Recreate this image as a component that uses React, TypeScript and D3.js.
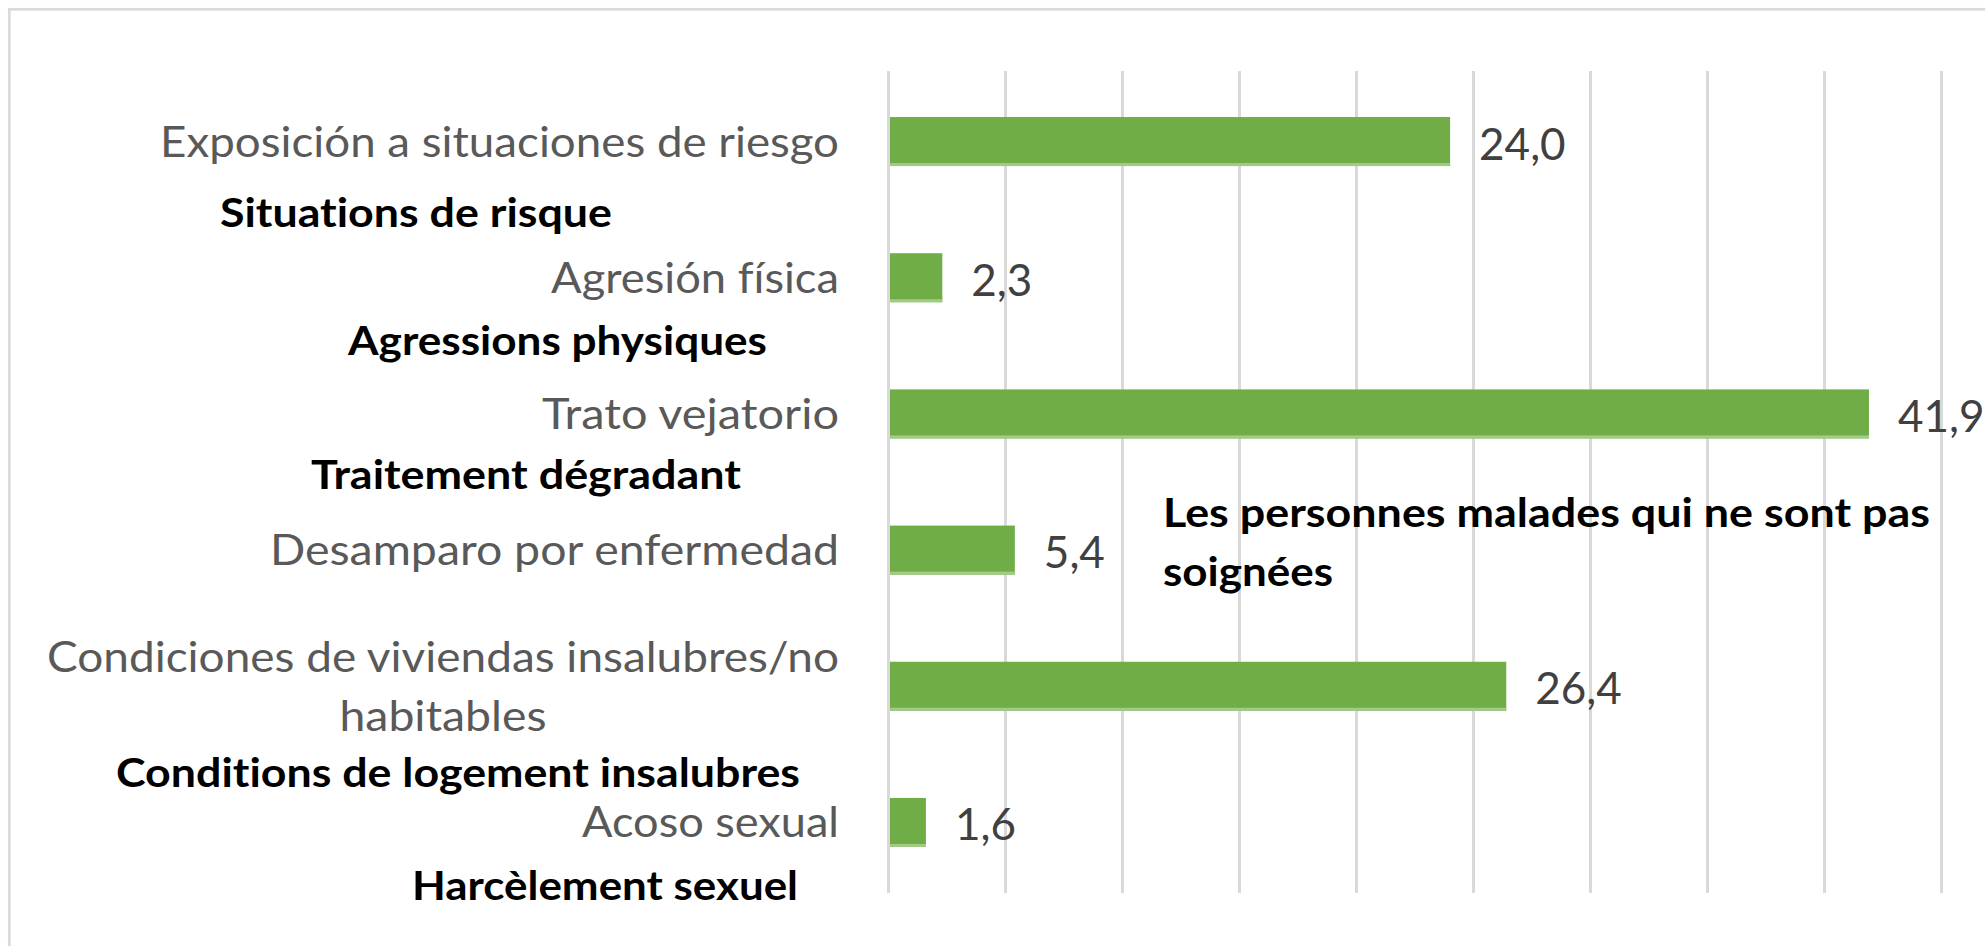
import React from "react";
import * as d3 from "d3";

// ---- data ----
const categoryLines: string[][] = [
  ["Exposición a situaciones de riesgo"],
  ["Agresión física"],
  ["Trato vejatorio"],
  ["Desamparo por enfermedad"],
  ["Condiciones de viviendas insalubres/no", "habitables"],
  ["Acoso sexual"],
];
const categories = categoryLines.map((l) => l.join(" "));
const values = [24.0, 2.3, 41.9, 5.4, 26.4, 1.6];
const xTicks = [0, 5, 10, 15, 20, 25, 30, 35, 40, 45];
const frenchNotes: string[][] = [
  ["Situations de risque"],
  ["Agressions physiques"],
  ["Traitement dégradant"],
  ["Les personnes malades qui ne sont pas", "soignées"],
  ["Conditions de logement insalubres"],
  ["Harcèlement sexuel"],
];

// ---- layout (positions / sizes) ----
const W = 1985;
const H = 946;
const labelRight = 839;
const catWidths = [[679], [288], [297], [569], [792, 207], [257]];
const noteLayout = [
  { x: 220, y: 227, w: [392] },
  { x: 348, y: 355, w: [419] },
  { x: 311, y: 489, w: [430] },
  { x: 1163, y: 527, w: [767, 170] },
  { x: 116, y: 787, w: [684] },
  { x: 412, y: 900, w: [386] },
];
const FONT = "Lato, 'Open Sans', sans-serif";
const noLig = { fontVariantLigatures: "none", fontFeatureSettings: "'liga' 0, 'clig' 0" } as React.CSSProperties;

export default function App() {
  const x = d3.scaleLinear().domain([0, 45]).range([888.5, 1941.5]);
  const y = d3
    .scaleBand<string>()
    .domain(categories)
    .range([71, 893])
    .paddingInner(0.64)
    .paddingOuter(0.338);
  const fmt = (v: number) => d3.format(".1f")(v).replace(".", ",");
  const bw = y.bandwidth();

  return (
    <svg
      width={W}
      height={H}
      style={{ position: "absolute", left: 0, top: 0, background: "#fff" }}
    >
      <rect x={0} y={0} width={W} height={H} fill="#ffffff" />
      {/* frame */}
      <rect
        x={9.3}
        y={9.3}
        width={W + 50}
        height={H + 50}
        fill="none"
        stroke="#d9d9d9"
        strokeWidth={2.7}
      />
      {/* gridlines */}
      {xTicks.map((t) => (
        <line
          key={t}
          x1={x(t)}
          x2={x(t)}
          y1={71}
          y2={893}
          stroke="#d9d9d9"
          strokeWidth={3}
        />
      ))}
      {/* bars */}
      {categories.map((c, i) => (
        <g key={c}>
          <rect
            x={x(0) + 1.5}
            y={y(c)!}
            width={x(values[i]) - x(0) - 1.5}
            height={bw}
            fill="#70ad47"
          />
          <rect
            x={x(0) + 1.5}
            y={y(c)! + bw - 3}
            width={x(values[i]) - x(0) - 1.5}
            height={3}
            fill="#a3cb87"
          />
        </g>
      ))}
      {/* value labels */}
      {categories.map((c, i) => (
        <text
          key={c}
          x={x(values[i]) + 29}
          y={y(c)! + bw / 2 + 18}
          fontFamily={FONT}
          fontSize={44}
          fill="#404040"
        >
          {fmt(values[i])}
        </text>
      ))}
      {/* category labels */}
      {categoryLines.map((lines, i) => {
        const c = categories[i];
        const cy = y(c)! + bw / 2 + 15;
        const maxW = Math.max(...catWidths[i]);
        const cx = labelRight - maxW / 2;
        const lh = 59;
        const y0 = cy - ((lines.length - 1) * lh) / 2;
        return lines.map((ln, k) => (
          <text
            key={`${c}-${k}`}
            x={cx}
            y={y0 + k * lh}
            textAnchor="middle"
            fontFamily={FONT}
            fontSize={42}
            fill="#595959"
            textLength={catWidths[i][k]}
            lengthAdjust="spacingAndGlyphs"
            style={noLig}
          >
            {ln}
          </text>
        ));
      })}
      {/* French annotations */}
      {frenchNotes.map((lines, i) =>
        lines.map((ln, k) => (
          <text
            key={`${i}-${k}`}
            x={noteLayout[i].x}
            y={noteLayout[i].y + k * 59}
            fontFamily={FONT}
            fontWeight={700}
            fontSize={40}
            fill="#000000"
            textLength={noteLayout[i].w[k]}
            lengthAdjust="spacingAndGlyphs"
            style={noLig}
          >
            {ln}
          </text>
        ))
      )}
    </svg>
  );
}
